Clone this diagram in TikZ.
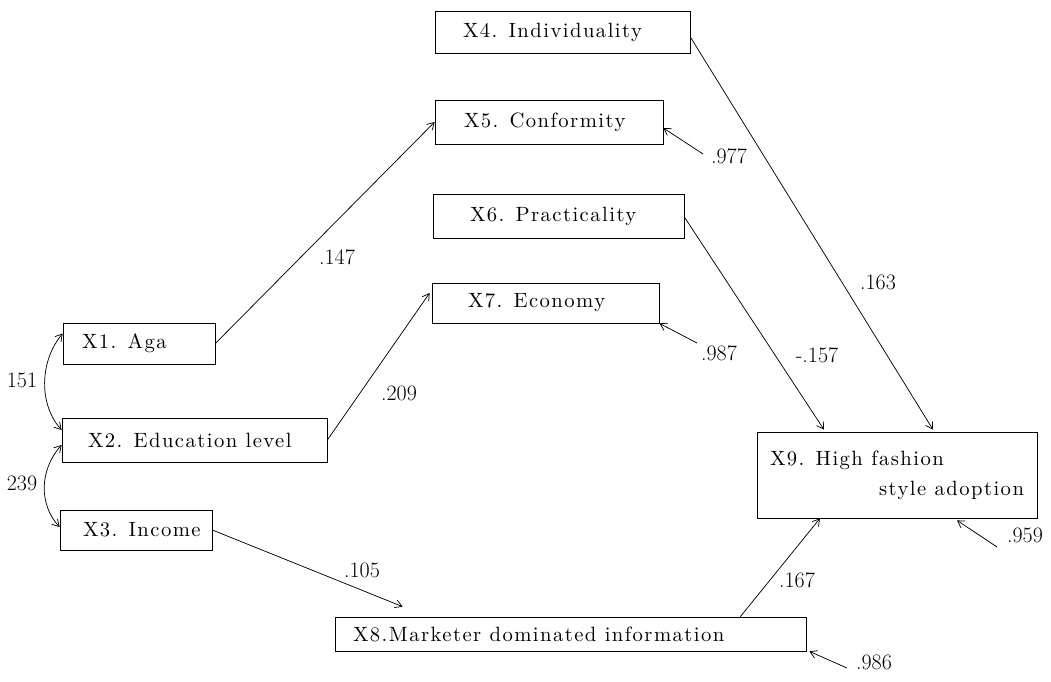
\documentclass[tikz,border=0pt]{standalone}
\usepackage{fontspec}
\usetikzlibrary{arrows.meta,calc}
\newfontfamily\bxfam[LetterSpace=7]{lmroman10-regular.otf}
\newcommand{\bxfont}{\bxfam\fontsize{15.5}{22.5}\selectfont}
\newcommand{\lbfont}{\fontsize{16.5}{18}\selectfont}
\begin{document}
\begin{tikzpicture}[x=0.75pt,y=-0.75pt,
  box/.style={draw,line width=0.55pt,inner ysep=0pt,align=left,font=\bxfont},
  lbl/.style={font=\lbfont,inner sep=0pt},
  arr/.style={line width=0.55pt,-{Straight Barb[length=5pt,width=6pt]}},
  darr/.style={line width=0.55pt,{Straight Barb[length=5pt,width=6pt]}-{Straight Barb[length=5pt,width=6pt]}},
]
\useasboundingbox (0,0) rectangle (1051,682);

% boxes
\node[box,minimum height=30.75pt,inner xsep=14.25pt] (X1) at (139,343.5) {\makebox[85.5pt][l]{X1. Aga}};
\node[box,minimum height=33pt,inner xsep=19.5pt] (X2) at (194.5,440) {\makebox[159.75pt][l]{X2. Education level}};
\node[box,minimum height=30pt,inner xsep=17.25pt] (X3) at (136,530) {\makebox[79.5pt][l]{X3. Income}};
\node[box,minimum height=31.5pt,inner xsep=21pt] (X4) at (562.5,32) {\makebox[149.25pt][l]{X4. Individuality}};
\node[box,minimum height=33pt,inner xsep=21.75pt] (X5) at (549,122) {\makebox[127.5pt][l]{X5. Conformity}};
\node[box,minimum height=33pt,inner xsep=27.75pt] (X6) at (558.5,216) {\makebox[132.75pt][l]{X6. Practicality}};
\node[box,minimum height=30pt,inner xsep=27pt] (X7) at (545.5,303) {\makebox[116.25pt][l]{X7. Economy}};
\node[box,minimum height=25.5pt,inner xsep=13.5pt] (X8) at (570.5,634) {\makebox[326.25pt][l]{X8.Marketer dominated information}};
\node[box,minimum height=64.5pt,inner xsep=9.75pt] (X9) at (897,475) {\makebox[190.5pt][l]{X9. High fashion}\\\makebox[190.5pt][r]{style adoption}};

% paths
\draw[arr] (X1.east) -- (X5.west);
\draw[arr] (X2.east) -- ($(X7.west)+(-2,-10)$);
\draw[arr] (X3.east) -- ($(X8.north west)+(68,-10)$);
\draw[arr] ($(X4.east)+(0,5)$) -- ($(X9.north)+(36,-2)$);
\draw[arr] ($(X6.east)+(0,1)$) -- ($(X9.north)+(-73,-2)$);
\draw[arr] ($(X8.north east)+(-66,0)$) -- ($(X9.south)+(-77,0)$);

% residuals
\coordinate (r5) at (703,154);
\coordinate (r7) at (697,343);
\coordinate (r9) at (997,547);
\coordinate (r8) at (847,668);
\draw[arr] (r5) -- ($(X5.east)+(0,6)$);
\draw[arr] (r7) -- (X7.south east);
\draw[arr] (r9) -- ($(X9.south)+(60,2)$);
\draw[arr] (r8) -- ($(X8.south east)+(3,0)$);

% correlations
\draw[darr] ($(X1.west)+(0,-10)$) .. controls (39,362) and (39,405) .. ($(X2.west)+(0,-10)$);
\draw[darr] ($(X2.west)+(0,5)$) .. controls (39,470) and (39,505) .. ($(X3.west)+(0,-3)$);

% labels
\node[lbl] (l151) at (22,380) {151};
\node[lbl] (l239) at (22,483) {239};
\node[lbl] (l147) at (337,257) {.147};
\node[lbl] (l209) at (399,393) {.209};
\node[lbl] (l105) at (362,570) {.105};
\node[lbl] (l163) at (878,282) {.163};
\node[lbl] (l157) at (817,355) {-.157};
\node[lbl] (l167) at (797,580) {.167};
\node[lbl] (l977) at (729,156) {.977};
\node[lbl] (l987) at (719,353) {.987};
\node[lbl] (l959) at (1025,535) {.959};
\node[lbl] (l986) at (874,662) {.986};
\end{tikzpicture}
\end{document}
